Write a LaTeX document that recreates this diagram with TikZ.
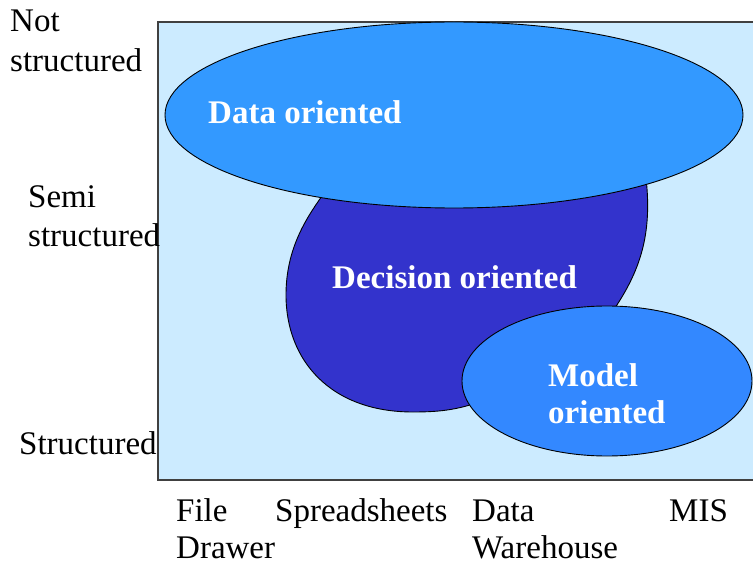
\documentclass[tikz,border=0pt]{standalone}
\usepackage{fontspec}
\setmainfont{Liberation Serif}
\definecolor{bgblue}{HTML}{CCEBFF}
\definecolor{datablue}{HTML}{3399FF}
\definecolor{decblue}{HTML}{3333CC}
\definecolor{modelblue}{HTML}{3388FF}
\begin{document}
\begin{tikzpicture}[x=1pt,y=-1pt,
  lbl/.style={anchor=base west, inner sep=0pt, font=\fontsize{33}{37}\selectfont},
  blbl/.style={anchor=base west, inner sep=0pt, font=\fontsize{33}{37}\selectfont\bfseries, text=white},
  outline/.style={draw=black, line width=0.9pt}]
\useasboundingbox (0,0) rectangle (753,564);
\clip (0,0) rectangle (753,564);
% background panel
\fill[bgblue] (158,22) rectangle (770,480);
\draw[line width=1.3pt, black!75] (770,22) -- (158,22) -- (158,480) -- (770,480);
% decision blob
\draw[outline, fill=decblue] (330,170) -- (645,170)
  .. controls (654,235) and (640,275) .. (605,322)
  -- (490,398)
  .. controls (460,410) and (440,412) .. (413,412)
  .. controls (330,412) and (286,360) .. (286,295)
  .. controls (286,250) and (305,220) .. (322,196) -- cycle;
% data ellipse
\draw[outline, fill=datablue] (454,115) ellipse [x radius=289, y radius=93];
% model ellipse
\draw[outline, fill=modelblue] (607,381) ellipse [x radius=145, y radius=75];
% labels inside
\node[blbl] (data) at (208,124) {Data oriented};
\node[blbl] (decision) at (332,289) {Decision oriented};
\node[blbl] (model1) at (548,386) {Model};
\node[blbl] (model2) at (548,423) {oriented};
% vertical axis labels
\node[lbl] (not) at (10,32) {Not};
\node[lbl] (ns) at (10,72) {structured};
\node[lbl] (semi) at (28,208) {Semi};
\node[lbl] (ss) at (28,247) {structured};
\node[lbl] (st) at (19,454) {Structured};
% horizontal axis labels
\node[lbl] (file) at (176,521) {File};
\node[lbl] (drawer) at (176,558) {Drawer};
\node[lbl] (spread) at (275,521) {Spreadsheets};
\node[lbl] (dw1) at (472,521) {Data};
\node[lbl] (dw2) at (472,558) {Warehouse};
\node[lbl] (mis) at (669,521) {MIS};
\end{tikzpicture}
\end{document}
